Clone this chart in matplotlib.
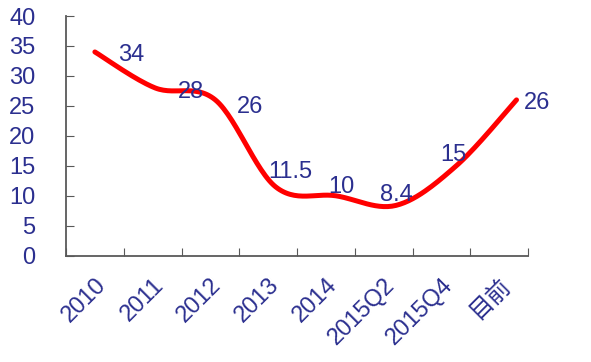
import matplotlib
matplotlib.use("Agg")
import matplotlib.pyplot as plt
import matplotlib.transforms as mtransforms
import numpy as np

plt.rcParams['font.family'] = ['Liberation Sans', 'Noto Sans CJK SC', 'DejaVu Sans']

# data
categories = ['2010', '2011', '2012', '2013', '2014', '2015Q2', '2015Q4', '目前']
values = [34, 28, 26, 11.5, 10, 8.4, 15, 26]
labels = ['34', '28', '26', '11.5', '10', '8.4', '15', '26']

# layout of the value labels (offset in pixels from each point)
label_offsets = [(36, -3), (36, -4), (35, -7), (15, 15), (6, 9), (0, 10), (-3, 11), (21, -3)]
stretch = 1.043  # the curve runs a bit wider than the category spacing
blue = '#2b2f8f'


def smooth(xs, ys, n=30):
    # Catmull-Rom through the points, like Excel's smoothed line
    xs = np.asarray(xs, float)
    ys = np.asarray(ys, float)
    px = np.concatenate([[xs[0]], xs, [xs[-1]]])
    py = np.concatenate([[ys[0]], ys, [ys[-1]]])
    outx, outy = [], []
    t = np.linspace(0, 1, n)
    for i in range(1, len(px) - 2):
        p0 = np.array([px[i], py[i]])
        p3 = np.array([px[i + 1], py[i + 1]])
        c1 = p0 + (np.array([px[i + 1], py[i + 1]]) - np.array([px[i - 1], py[i - 1]])) / 6
        c2 = p3 - (np.array([px[i + 2], py[i + 2]]) - np.array([px[i], py[i]])) / 6
        b = ((1 - t) ** 3)[:, None] * p0 + (3 * (1 - t) ** 2 * t)[:, None] * c1 \
            + (3 * (1 - t) * t ** 2)[:, None] * c2 + (t ** 3)[:, None] * p3
        outx.extend(b[:, 0])
        outy.extend(b[:, 1])
    return outx, outy


fig = plt.figure(figsize=(5.91, 3.62), dpi=100)
ax = fig.add_axes([0.1117, 0.2936, 0.7817, 0.6622])

xs = np.arange(len(values)) * stretch
sx, sy = smooth(xs, values)
ax.plot(sx, sy, color='red', lw=3.6, solid_capstyle='round')

for x, y, lab, off in zip(xs, values, labels, label_offsets):
    ax.annotate(lab, (x, y), xytext=off, textcoords='offset pixels',
                ha='center', va='center', fontsize=17, color=blue)

ax.set_xlim(-0.5, len(categories) - 0.5)
ax.set_ylim(0, 40)
ax.set_yticks(range(0, 41, 5))
ax.set_xticks(np.arange(len(categories) + 1) - 0.5)
ax.set_xticklabels([])
ax.set_xticks(np.arange(len(categories)), minor=True)
ax.set_xticklabels(categories, minor=True, rotation=45, ha='right', va='top',
                   rotation_mode='anchor', fontsize=17, color=blue)
shift = mtransforms.ScaledTranslation(-6 / 100, 0, fig.dpi_scale_trans)
for t in ax.get_xticklabels(minor=True):
    t.set_transform(t.get_transform() + shift)
ax.tick_params(axis='x', which='minor', length=0, pad=13)
ax.tick_params(axis='x', which='major', direction='in', length=6, color='#595959')
ax.tick_params(axis='y', direction='in', length=6, color='#595959', labelsize=17,
               labelcolor=blue, pad=22)

for s in ['top', 'right']:
    ax.spines[s].set_visible(False)
for s in ['left', 'bottom']:
    ax.spines[s].set_color('#595959')
    ax.spines[s].set_linewidth(1.3)

fig.savefig('out.png', dpi=100)
